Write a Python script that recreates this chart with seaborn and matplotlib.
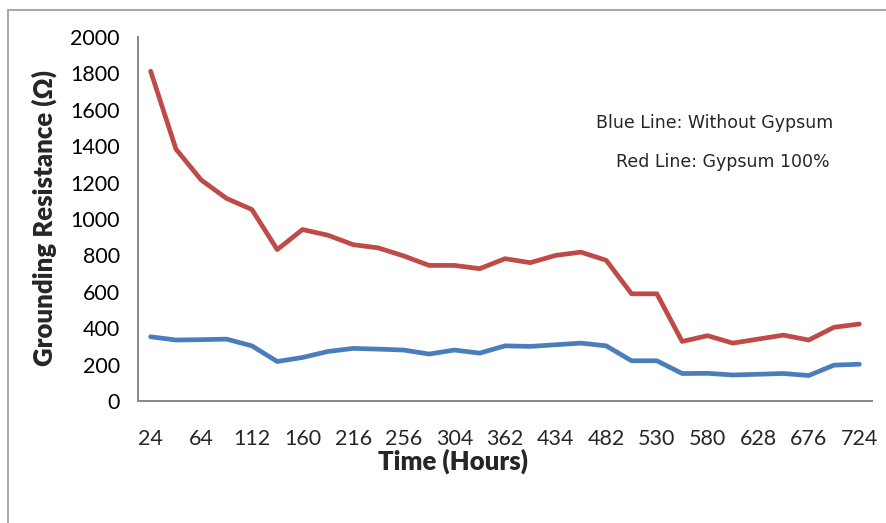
import matplotlib
matplotlib.use("Agg")
import matplotlib.pyplot as plt
import matplotlib.patches as mpatches
import numpy as np
import pandas as pd
import seaborn as sns

# Grounding resistance measurements (ohm), one reading per time step
without_gypsum = [353, 335, 337, 340, 303, 217, 239, 272, 289, 285, 280, 258, 280, 263, 303,
                  300, 309, 318, 303, 221, 221, 151, 152, 143, 147, 151, 140, 197, 202]
gypsum_100 = [1812, 1384, 1214, 1113, 1052, 832, 942, 911, 859, 841, 797, 745, 745, 727, 782,
              760, 800, 818, 773, 589, 589, 327, 359, 318, 340, 362, 335, 405, 423]
# Hour labels shown on every second step
hour_labels = ["24", "64", "112", "160", "216", "256", "304", "362", "434", "482",
               "530", "580", "628", "676", "724"]
y_ticks = [0, 200, 400, 600, 800, 1000, 1200, 1400, 1600, 1800, 2000]

n = len(gypsum_100)
df = pd.DataFrame({
    "step": list(range(n)) * 2,
    "resistance": without_gypsum + gypsum_100,
    "series": ["Without Gypsum"] * n + ["Gypsum 100%"] * n,
})

sns.set_theme(style="white")
plt.rcParams["font.family"] = ["Lato", "DejaVu Sans"]

W, H = 887, 523
fig = plt.figure(figsize=(W / 100, H / 100), dpi=100)
left, right, top, bottom = 138, 872, 37, 401
ax = fig.add_axes([left / W, 1 - bottom / H, (right - left) / W, (bottom - top) / H])

sns.lineplot(data=df, x="step", y="resistance", hue="series",
             palette={"Without Gypsum": "#4A7EBB", "Gypsum 100%": "#BE4B48"},
             linewidth=3.4, legend=False, ax=ax, solid_capstyle="round")

ax.set_xlim(-0.5, n - 0.5)
ax.set_ylim(0, 2000)
ax.set_yticks(y_ticks)
ax.set_yticklabels([str(v) for v in y_ticks], fontsize=15.5)

# category boundaries carry the tick marks, labels sit on every second point
ax.set_xticks(np.arange(-0.5, n, 1.0))
ax.set_xticklabels([])
ax.set_xticks(np.arange(0, n, 2), minor=True)
ax.set_xticklabels(hour_labels, minor=True, fontsize=15.5)
ax.tick_params(axis="x", which="major", length=5, width=1.2, color="#868686", direction="out")
ax.tick_params(axis="x", which="minor", length=0, pad=20)
ax.tick_params(axis="y", length=5, width=1.2, color="#868686", direction="out", pad=8)
ax.tick_params(axis="both", labelcolor="black")

for s in ["top", "right"]:
    ax.spines[s].set_visible(False)
for s in ["left", "bottom"]:
    ax.spines[s].set_color("#868686")
    ax.spines[s].set_linewidth(1.4)

ax.set_xlabel("")
ax.set_ylabel("")
fig.text(453 / W, 1 - 461 / H, "Time (Hours)", ha="center", va="center",
         fontsize=18.5, fontweight="heavy")
fig.text(44 / W, 1 - 218 / H, "Grounding Resistance (Ω)", ha="center", va="center",
         rotation=90, fontsize=18.5, fontweight="heavy")

fig.text(715 / W, 1 - 123 / H, "Blue Line: Without Gypsum", ha="center", va="center",
         fontsize=12.5, family="DejaVu Sans")
fig.text(723 / W, 1 - 162 / H, "Red Line: Gypsum 100%", ha="center", va="center",
         fontsize=12.5, family="DejaVu Sans")

# outer chart frame
fig.patches.append(mpatches.Rectangle((8 / W, -0.1), 1.2, 1 - 10 / H + 0.1,
                                      transform=fig.transFigure, fill=False,
                                      edgecolor="#9a9a9a", linewidth=1.2))

fig.savefig("out.png", dpi=100)
